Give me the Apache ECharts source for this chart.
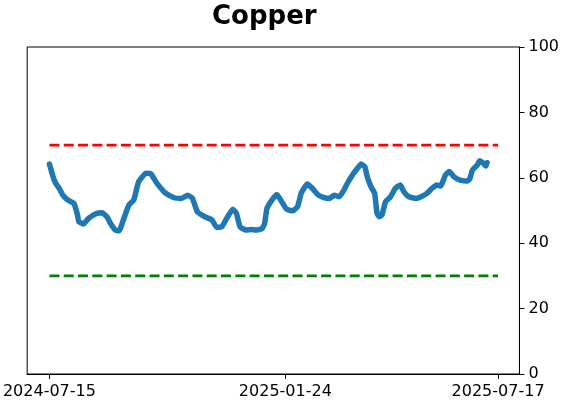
<!DOCTYPE html>
<html>
<head>
<meta charset="utf-8">
<script src="https://cdn.jsdelivr.net/npm/echarts@6/dist/echarts.min.js"></script>
<style>
html,body{margin:0;padding:0;background:#fff;}
#chart{width:562px;height:402px;}
</style>
</head>
<body>
<div id="chart"></div>
<script>
const title = 'Copper';
const dates = [
'2024-07-15','2024-07-18','2024-07-20','2024-07-23','2024-07-26','2024-07-30','2024-08-04','2024-08-07','2024-08-08','2024-08-12',
'2024-08-16','2024-08-22','2024-08-27','2024-08-31','2024-09-03','2024-09-07','2024-09-10','2024-09-13','2024-09-18','2024-09-22',
'2024-09-26','2024-10-02','2024-10-06','2024-10-11','2024-10-18','2024-10-25','2024-10-31','2024-11-05','2024-11-09','2024-11-13',
'2024-11-19','2024-11-25','2024-11-29','2024-12-03','2024-12-07','2024-12-12','2024-12-15','2024-12-18','2024-12-23','2024-12-27',
'2024-12-31','2025-01-05','2025-01-07','2025-01-09','2025-01-13','2025-01-17','2025-01-21','2025-01-25','2025-01-30','2025-02-03',
'2025-02-06','2025-02-11','2025-02-15','2025-02-20','2025-02-25','2025-03-01','2025-03-05','2025-03-09','2025-03-13','2025-03-15',
'2025-03-20','2025-03-24','2025-03-27','2025-03-30','2025-04-01','2025-04-04','2025-04-07','2025-04-09','2025-04-11','2025-04-13',
'2025-04-16','2025-04-20','2025-04-24','2025-04-28','2025-05-01','2025-05-05','2025-05-11','2025-05-15','2025-05-20','2025-05-24',
'2025-05-28','2025-05-31','2025-06-04','2025-06-07','2025-06-11','2025-06-16','2025-06-22','2025-06-24','2025-06-26','2025-06-30',
'2025-07-02','2025-07-05','2025-07-07','2025-07-08'
];
const values = [
64.2,60.3,58.4,56.8,54.7,53.2,52.2,48.6,46.6,45.9,
47.6,49.0,49.3,48.1,46.0,44.0,43.8,46.6,51.7,53.2,
58.8,61.4,61.2,58.3,55.3,53.9,53.7,54.7,53.7,49.6,
48.1,47.1,44.8,45.0,47.6,50.4,49.1,45.0,44.0,44.2,
44.0,44.5,46.0,50.7,53.2,54.9,52.7,50.4,49.9,51.2,
55.3,58.1,56.8,54.7,53.9,53.7,54.7,54.2,56.3,57.8,
60.9,62.9,64.2,63.4,60.3,57.3,55.3,49.1,48.1,48.6,
52.7,54.2,56.8,57.8,55.7,54.2,53.7,54.2,55.3,56.8,
57.8,57.5,60.9,61.9,60.3,59.3,59.0,59.8,62.4,63.9,
65.2,64.4,63.6,64.6
];
const tickDates = ['2024-07-15','2025-01-24','2025-07-17'];
const upperLevel = 70;
const lowerLevel = 30;

const DAY = 86400000;
function ts(s){ return Date.UTC(+s.slice(0,4), +s.slice(5,7) - 1, +s.slice(8,10)); }
function fmt(v){
  const d = new Date(v);
  const p = n => String(n).padStart(2, '0');
  return d.getUTCFullYear() + '-' + p(d.getUTCMonth() + 1) + '-' + p(d.getUTCDate());
}
const first = ts(tickDates[0]);
const last = ts(tickDates[2]);
const xMin = first - 18.2 * DAY;
const xMax = last + 17.5 * DAY;
const tickTs = tickDates.map(ts);

const font = 'DejaVu Sans';
const chart = echarts.init(document.getElementById('chart'), null, {renderer:'canvas'});
chart.setOption({
  animation: false,
  backgroundColor: '#fff',
  title: {
    text: title, left: 212, top: 4, padding: 0,
    textStyle: {fontFamily: font, fontWeight: 'bold', fontSize: 26, color: '#000'}
  },
  grid: {left: 26, right: 41, top: 47, bottom: 28, show: true, borderColor: '#000', borderWidth: 1, backgroundColor: 'transparent'},
  xAxis: {
    type: 'value', min: xMin, max: xMax,
    axisLine: {show: true, onZero: false, lineStyle: {color: '#000', width: 1}},
    axisTick: {show: true, length: 5, lineStyle: {color: '#000'}, customValues: tickTs},
    axisLabel: {
      customValues: tickTs, color: '#000', fontFamily: font, fontSize: 16, margin: 10,
      showMinLabel: true, showMaxLabel: true, hideOverlap: false,
      formatter: function(v){ return fmt(v); }
    },
    splitLine: {show: false}
  },
  yAxis: {
    type: 'value', position: 'right', min: 0, max: 100, interval: 20,
    axisLine: {show: true, lineStyle: {color: '#000', width: 1}},
    axisTick: {show: true, length: 5, inside: false, lineStyle: {color: '#000'}},
    axisLabel: {color: '#000', fontFamily: font, fontSize: 16, margin: 9, padding: [4, 0, 0, 0]},
    splitLine: {show: false}
  },
  series: [
    {
      type: 'line', showSymbol: false, symbol: 'none', z: 1,
      data: [[ts(tickDates[0]), upperLevel], [ts(tickDates[2]), upperLevel]],
      lineStyle: {color: '#ff0000', width: 2.7, type: [10, 4.3]}
    },
    {
      type: 'line', showSymbol: false, symbol: 'none', z: 1,
      data: [[ts(tickDates[0]), lowerLevel], [ts(tickDates[2]), lowerLevel]],
      lineStyle: {color: '#008000', width: 2.7, type: [10, 4.3]}
    },
    {
      type: 'line', showSymbol: false, symbol: 'none', z: 2, smooth: 0.15,
      data: dates.map((d, i) => [ts(d), values[i]]),
      lineStyle: {color: '#1f77b4', width: 5.5, cap: 'round', join: 'round'}
    }
  ]
});
</script>
</body>
</html>
